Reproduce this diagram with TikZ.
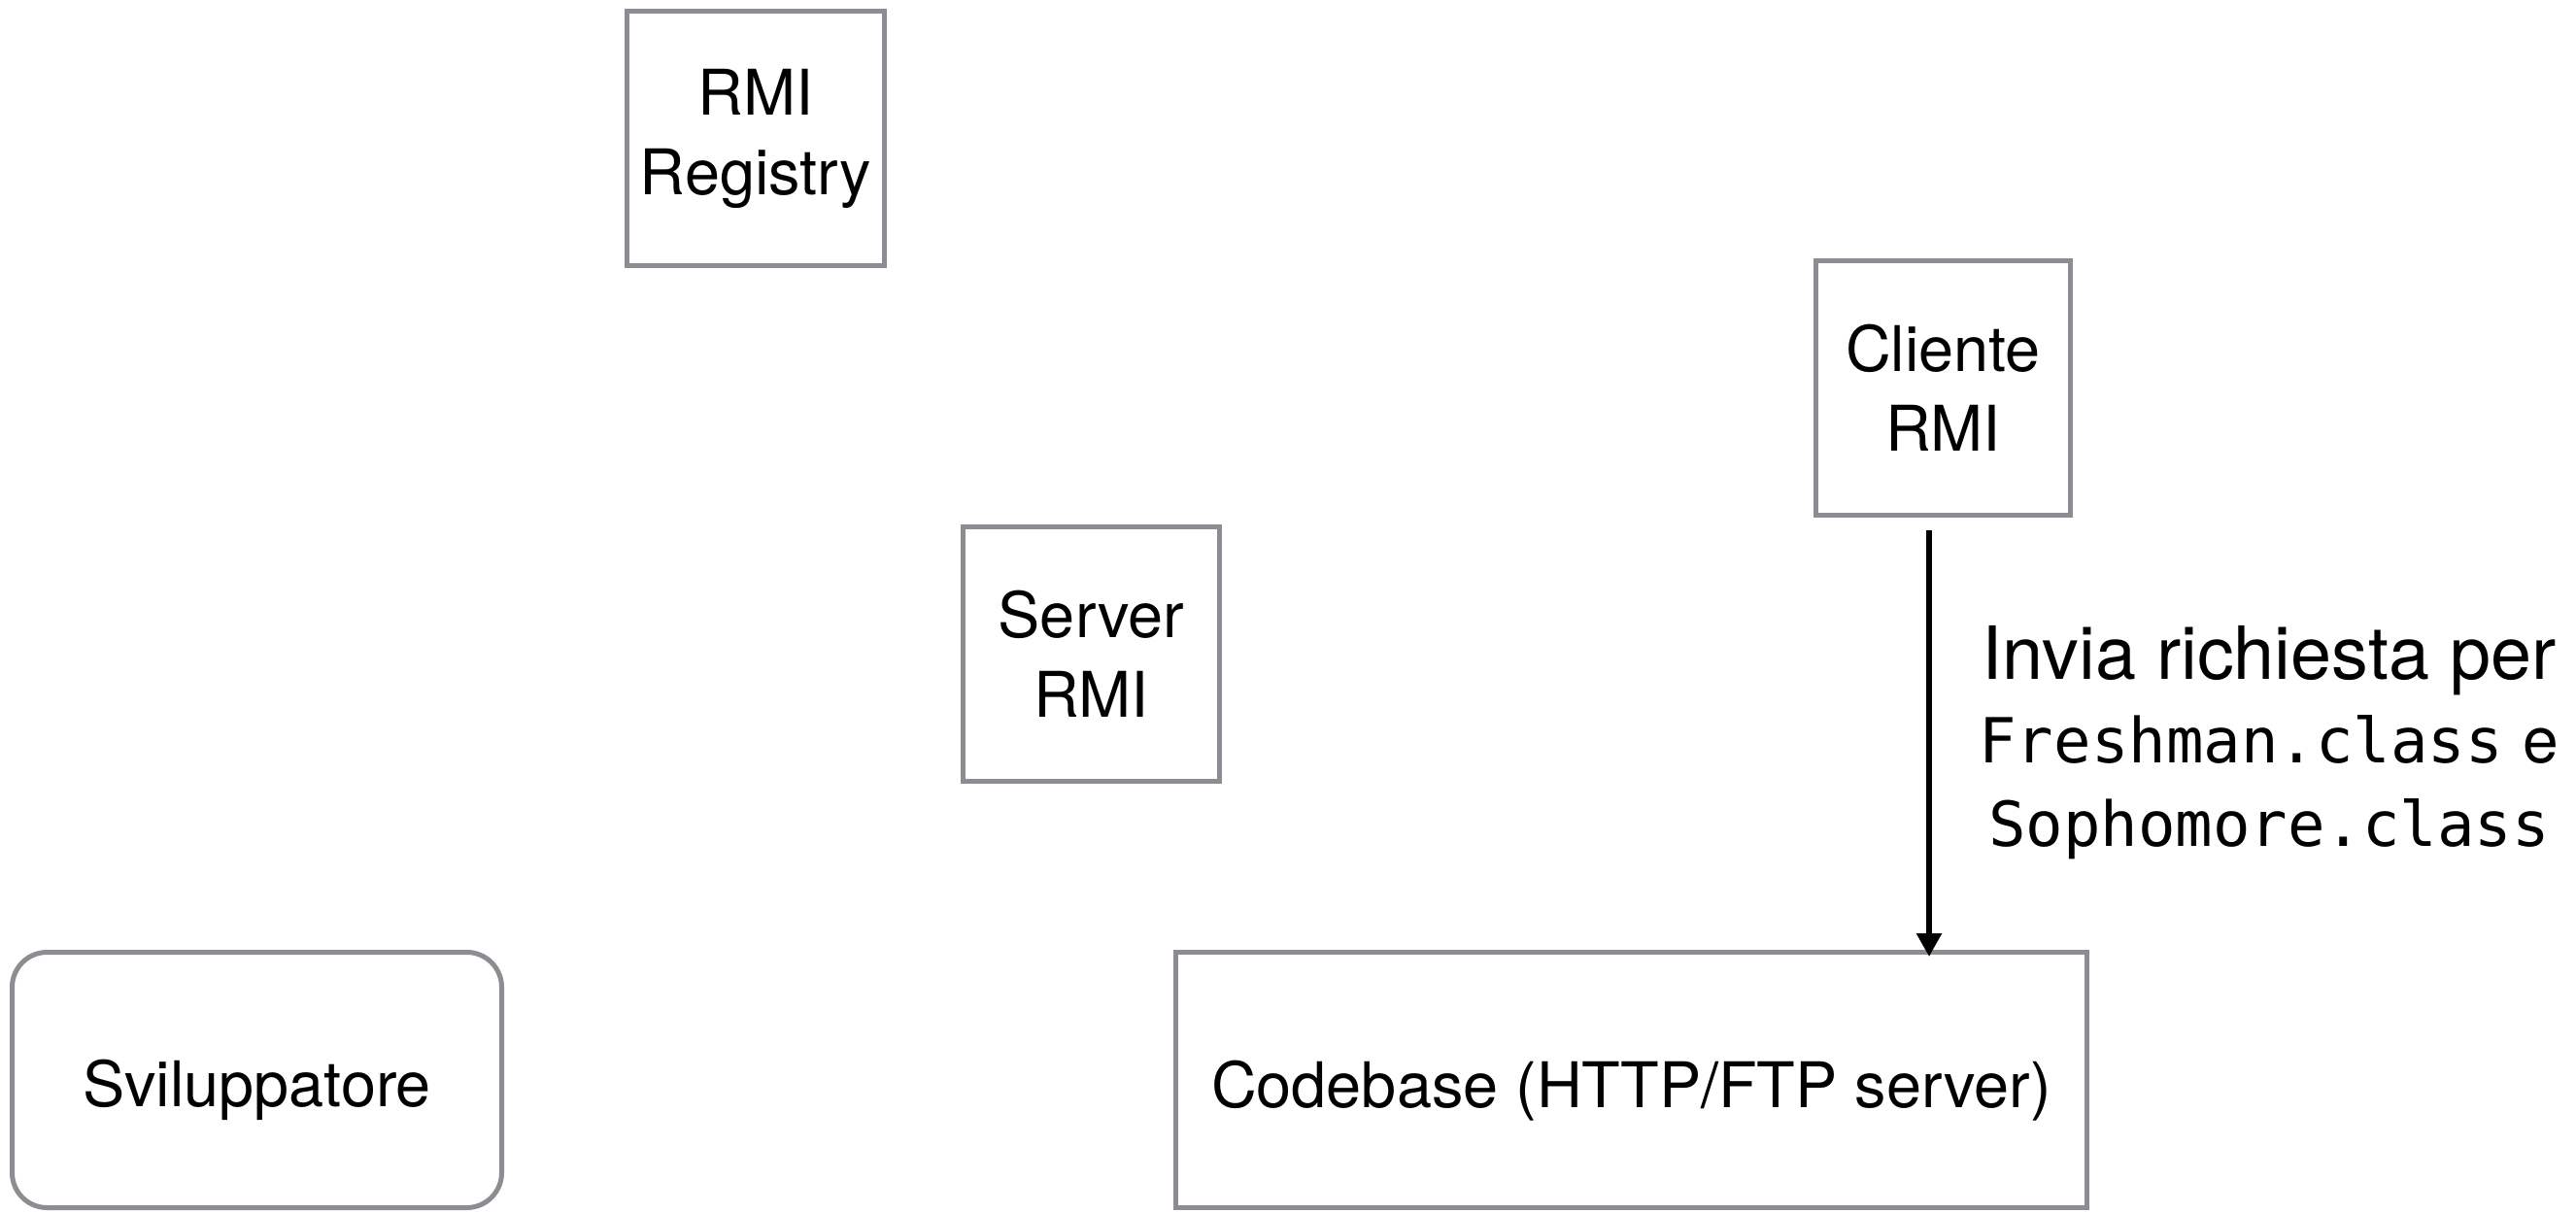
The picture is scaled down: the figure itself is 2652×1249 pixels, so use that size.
\documentclass[tikz,border=0pt]{standalone}
\usepackage{fontspec}
\setmainfont{TeX Gyre Heros}
\setmonofont{DejaVu Sans Mono}
\usetikzlibrary{arrows.meta}
\definecolor{bordergray}{HTML}{8A8D91}
\begin{document}
\begin{tikzpicture}[x=0.25pt,y=-0.25pt,
  box/.style={draw=bordergray,line width=1.25pt,inner sep=0pt,align=center,
    font=\fontsize{16.2pt}{20.5pt}\selectfont,execute at begin node={\rule{0pt}{17.5pt}}},
  arr/.style={draw=black,line width=1.4pt,-{Triangle[length=6pt,width=6.25pt]}},
  lbl/.style={align=center,inner sep=0pt,font=\fontsize{18.9pt}{21.5pt}\selectfont}]
\useasboundingbox[fill=white] (0,0) rectangle (2652,1249);
\node[box,minimum width=66.25pt,minimum height=65.5pt] (registry) at (778,142.5) {RMI\\Registry};
\node[box,minimum width=65.5pt,minimum height=65.5pt] (cliente) at (2000.5,399.5) {Cliente\\RMI};
\node[box,minimum width=66pt,minimum height=65.5pt] (server) at (1123.5,673.5) {Server\\RMI};
\node[box,rounded corners=9pt,minimum width=126pt,minimum height=65.75pt] (svil) at (264.5,1112) {Sviluppatore};
\node[box,minimum width=234.5pt,minimum height=65.75pt] (codebase) at (1679.5,1112) {Codebase (HTTP/FTP server)};
\coordinate (ax) at (1986,0);
\draw[arr] ([yshift=-3.25pt]cliente.south -| ax) -- ([yshift=-1.75pt]codebase.north -| ax);
\node[lbl] (label) at (2336,765) {Invia richiesta per\\{\fontsize{16pt}{21.5pt}\selectfont\ttfamily Freshman.class} {\fontsize{16.5pt}{21.5pt}\selectfont e}\\{\fontsize{16pt}{21.5pt}\selectfont\ttfamily Sophomore.class}};
\end{tikzpicture}
\end{document}
